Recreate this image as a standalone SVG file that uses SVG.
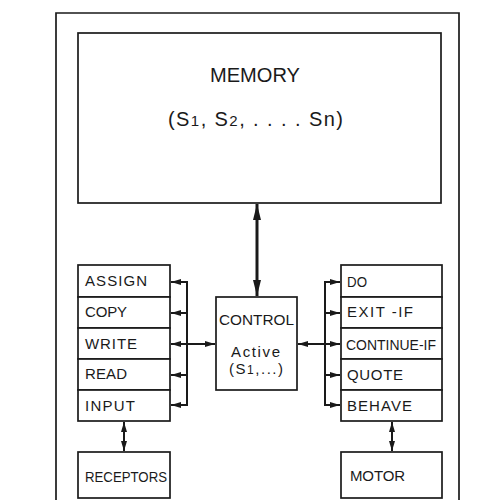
<svg xmlns="http://www.w3.org/2000/svg" width="493" height="500" viewBox="0 0 493 500">
<style>
.box{fill:#fff;stroke:#1a1a1a;stroke-width:1.7}
.t{font-family:"Liberation Sans",Arial,sans-serif;font-size:15px;fill:#1a1a1a}
.big{font-size:20px}
.ln{stroke:#1a1a1a;stroke-width:2;fill:none}
.thick{stroke:#1a1a1a;stroke-width:3;fill:none}
</style>
<defs>
<marker id="ah" viewBox="0 0 10 6" refX="10" refY="3" markerWidth="10" markerHeight="6" markerUnits="userSpaceOnUse" orient="auto-start-reverse"><path d="M0,0 L10,3 L0,6 Z" fill="#1a1a1a"/></marker>
<marker id="ahb" viewBox="0 0 16 8" refX="16" refY="4" markerWidth="16" markerHeight="8" markerUnits="userSpaceOnUse" orient="auto-start-reverse"><path d="M0,0 L16,4 L0,8 Z" fill="#1a1a1a"/></marker>
</defs>
<rect x="0" y="0" width="493" height="500" fill="#fff"/>
<path d="M56,504 V13 H459 V504" class="box" fill="none"/>

<g id="memory">
<rect class="box" x="78" y="33" width="363" height="170"/>
<text class="t big" x="210" y="82" textLength="90" lengthAdjust="spacingAndGlyphs">MEMORY</text>
<text class="t big" x="168" y="126" textLength="175" lengthAdjust="spacing">(S<tspan font-size="15">1</tspan>, S<tspan font-size="15">2</tspan>, . . . . Sn)</text>
</g>

<g id="control">
<rect class="box" x="216" y="297" width="81" height="93"/>
<text class="t" x="219" y="325" textLength="75" lengthAdjust="spacingAndGlyphs">CONTROL</text>
<text class="t" x="231" y="357" textLength="49" lengthAdjust="spacing">Active</text>
<text class="t" x="229" y="374" textLength="54" lengthAdjust="spacing">(S<tspan font-size="12">1</tspan>,...)</text>
</g>

<g id="assign"><rect class="box" x="78" y="265" width="92" height="32"/><text class="t" x="85" y="286" textLength="62" lengthAdjust="spacing">ASSIGN</text></g>
<g id="copy"><rect class="box" x="78" y="297" width="92" height="31"/><text class="t" x="85" y="317" textLength="42" lengthAdjust="spacing">COPY</text></g>
<g id="write"><rect class="box" x="78" y="328" width="92" height="31"/><text class="t" x="85" y="349" textLength="52" lengthAdjust="spacing">WRITE</text></g>
<g id="read"><rect class="box" x="78" y="359" width="92" height="31"/><text class="t" x="85" y="379" textLength="42" lengthAdjust="spacing">READ</text></g>
<g id="input"><rect class="box" x="78" y="390" width="92" height="31"/><text class="t" x="85" y="411" textLength="50" lengthAdjust="spacing">INPUT</text></g>
<g id="receptors"><rect class="box" x="78" y="452" width="92" height="46"/><text class="t" x="85" y="482" textLength="82" lengthAdjust="spacingAndGlyphs">RECEPTORS</text></g>

<g id="do"><rect class="box" x="341" y="265" width="101" height="32"/><text class="t" x="347" y="287" textLength="20" lengthAdjust="spacingAndGlyphs">DO</text></g>
<g id="exitif"><rect class="box" x="341" y="297" width="101" height="31"/><text class="t" x="347" y="317" textLength="66" lengthAdjust="spacing">EXIT -IF</text></g>
<g id="continueif"><rect class="box" x="341" y="328" width="101" height="31"/><text class="t" x="346" y="350" textLength="90" lengthAdjust="spacingAndGlyphs">CONTINUE-IF</text></g>
<g id="quote"><rect class="box" x="341" y="359" width="101" height="31"/><text class="t" x="347" y="380" textLength="56" lengthAdjust="spacing">QUOTE</text></g>
<g id="behave"><rect class="box" x="341" y="390" width="101" height="31"/><text class="t" x="347" y="411" textLength="65" lengthAdjust="spacing">BEHAVE</text></g>
<g id="motor"><rect class="box" x="341" y="452" width="101" height="46"/><text class="t" x="350" y="481" textLength="55" lengthAdjust="spacing">MOTOR</text></g>

<g id="connectors">
<line class="thick" x1="257" y1="204" x2="257" y2="296" marker-start="url(#ahb)" marker-end="url(#ahb)"/>
<line class="ln" x1="187" y1="281" x2="187" y2="406"/>
<line class="ln" x1="187" y1="282" x2="171" y2="282" marker-end="url(#ah)"/>
<line class="ln" x1="187" y1="313" x2="171" y2="313" marker-end="url(#ah)"/>
<line class="ln" x1="187" y1="344" x2="171" y2="344" marker-end="url(#ah)"/>
<line class="ln" x1="187" y1="375" x2="171" y2="375" marker-end="url(#ah)"/>
<line class="ln" x1="187" y1="405" x2="171" y2="405" marker-end="url(#ah)"/>
<line class="ln" x1="187" y1="344" x2="215" y2="344" marker-end="url(#ah)"/>
<line class="ln" x1="325" y1="281" x2="325" y2="406"/>
<line class="ln" x1="325" y1="282" x2="340" y2="282" marker-end="url(#ah)"/>
<line class="ln" x1="325" y1="313" x2="340" y2="313" marker-end="url(#ah)"/>
<line class="ln" x1="325" y1="344" x2="340" y2="344" marker-end="url(#ah)"/>
<line class="ln" x1="325" y1="375" x2="340" y2="375" marker-end="url(#ah)"/>
<line class="ln" x1="325" y1="405" x2="340" y2="405" marker-end="url(#ah)"/>
<line class="ln" x1="325" y1="344" x2="298" y2="344" marker-end="url(#ah)"/>
<line class="ln" x1="124" y1="422" x2="124" y2="451" marker-start="url(#ah)" marker-end="url(#ah)"/>
<line class="ln" x1="392" y1="422" x2="392" y2="451" marker-start="url(#ah)" marker-end="url(#ah)"/>
</g>
</svg>
